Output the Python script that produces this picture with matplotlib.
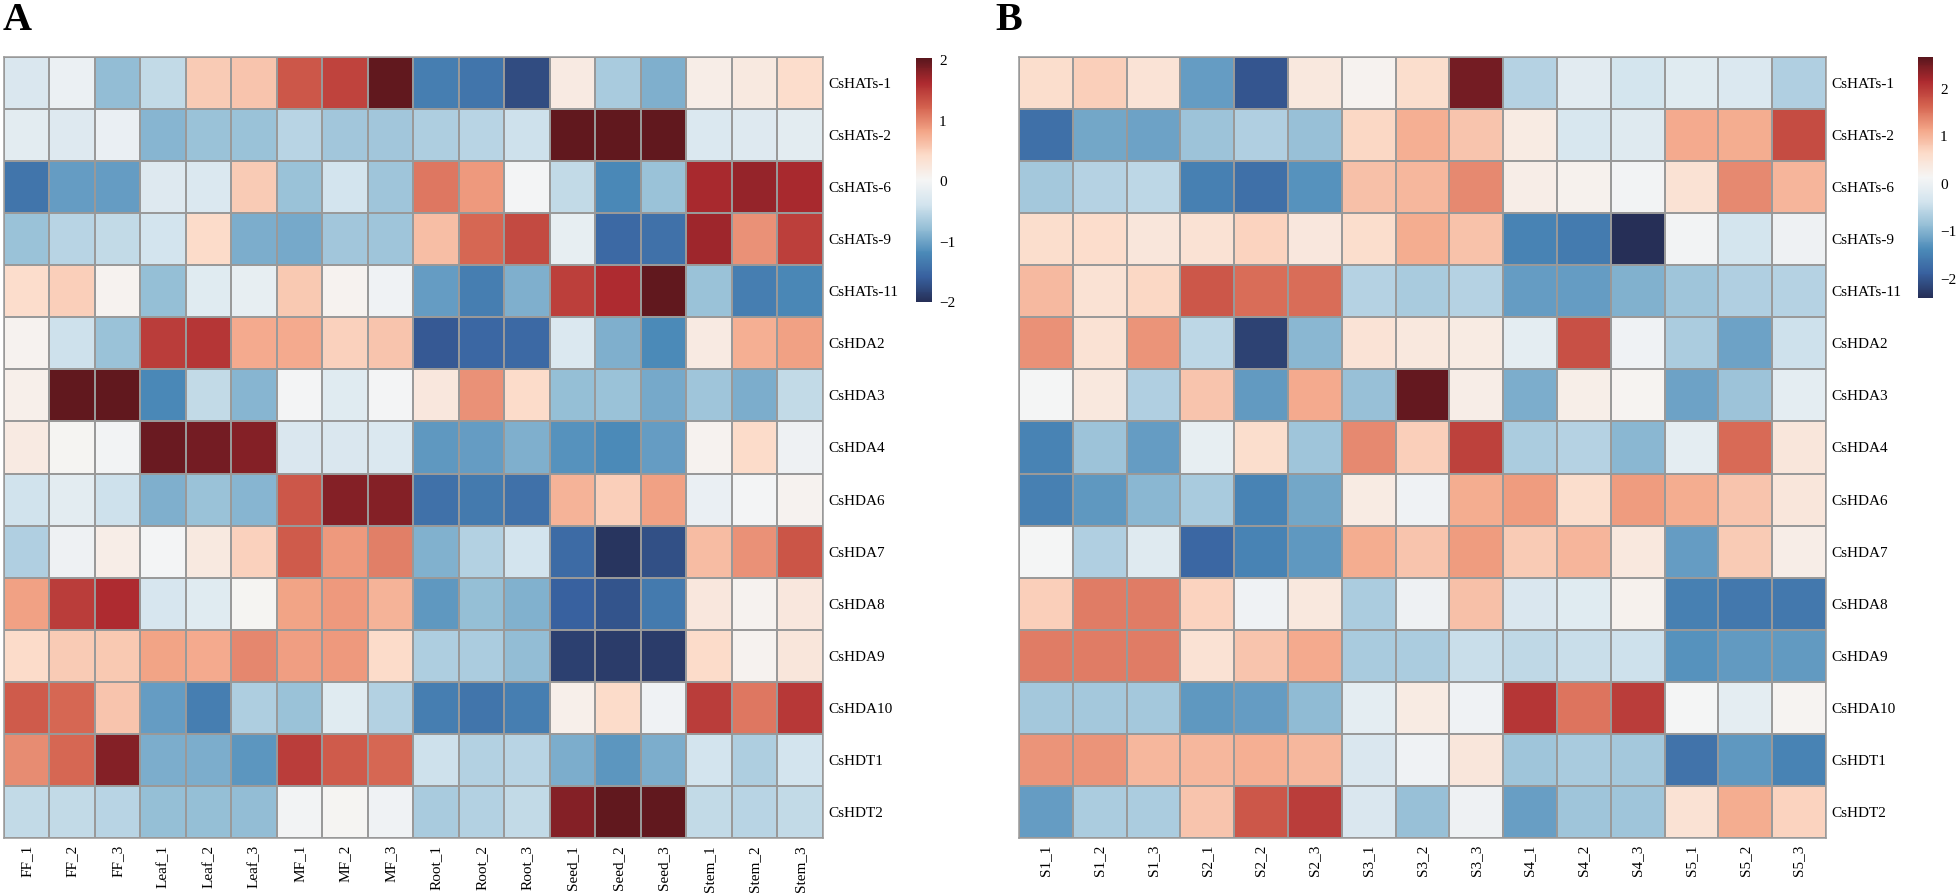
import numpy as np
import matplotlib
matplotlib.use("Agg")
import matplotlib.pyplot as plt
from matplotlib.colors import LinearSegmentedColormap

plt.rcParams["font.family"] = ["Liberation Serif", "DejaVu Serif"]

genes = ["CsHATs-1", "CsHATs-2", "CsHATs-6", "CsHATs-9", "CsHATs-11",
         "CsHDA2", "CsHDA3", "CsHDA4", "CsHDA6", "CsHDA7", "CsHDA8",
         "CsHDA9", "CsHDA10", "CsHDT1", "CsHDT2"]

tissues = ["FF_1", "FF_2", "FF_3", "Leaf_1", "Leaf_2", "Leaf_3",
           "MF_1", "MF_2", "MF_3", "Root_1", "Root_2", "Root_3",
           "Seed_1", "Seed_2", "Seed_3", "Stem_1", "Stem_2", "Stem_3"]

stages = ["S1_1", "S1_2", "S1_3", "S2_1", "S2_2", "S2_3", "S3_1", "S3_2",
          "S3_3", "S4_1", "S4_2", "S4_3", "S5_1", "S5_2", "S5_3"]

# z-scores, panel A (tissues)
vals_a = [
    [-0.3, -0.1, -0.8, -0.5, 0.55, 0.6, 1.3, 1.45, 2.0, -1.3, -1.4, -1.75, 0.2, -0.65, -0.9, 0.15, 0.22, 0.4],
    [-0.2, -0.25, -0.12, -0.85, -0.75, -0.75, -0.55, -0.7, -0.7, -0.62, -0.55, -0.42, 2.0, 2.0, 2.0, -0.28, -0.25, -0.2],
    [-1.4, -1.05, -1.05, -0.25, -0.28, 0.55, -0.75, -0.38, -0.72, 1.1, 0.9, 0.0, -0.5, -1.2, -0.75, 1.65, 1.75, 1.65],
    [-0.75, -0.55, -0.5, -0.38, 0.42, -0.92, -0.95, -0.7, -0.72, 0.65, 1.2, 1.4, -0.15, -1.5, -1.42, 1.7, 0.95, 1.48],
    [0.4, 0.52, 0.08, -0.78, -0.22, -0.15, 0.56, 0.08, -0.05, -1.05, -1.3, -0.9, 1.48, 1.62, 2.0, -0.75, -1.3, -1.22],
    [0.08, -0.42, -0.75, 1.5, 1.55, 0.78, 0.78, 0.5, 0.6, -1.65, -1.52, -1.5, -0.28, -0.9, -1.18, 0.2, 0.75, 0.85],
    [0.12, 2.0, 2.0, -1.2, -0.5, -0.85, 0.0, -0.22, 0.0, 0.25, 0.95, 0.42, -0.78, -0.75, -0.95, -0.72, -0.92, -0.5],
    [0.2, 0.04, -0.02, 1.95, 1.9, 1.82, -0.3, -0.3, -0.28, -1.08, -1.05, -0.9, -1.12, -1.18, -1.05, 0.08, 0.42, -0.06],
    [-0.4, -0.2, -0.42, -0.9, -0.75, -0.85, 1.3, 1.82, 1.82, -1.42, -1.35, -1.42, 0.72, 0.52, 0.85, -0.12, 0.0, 0.07],
    [-0.6, -0.06, 0.16, 0.0, 0.22, 0.5, 1.28, 0.9, 1.05, -0.88, -0.58, -0.38, -1.48, -1.95, -1.72, 0.66, 0.95, 1.32],
    [0.85, 1.5, 1.62, -0.33, -0.22, 0.04, 0.83, 0.9, 0.72, -1.08, -0.78, -0.88, -1.58, -1.7, -1.35, 0.25, 0.08, 0.25],
    [0.42, 0.55, 0.56, 0.83, 0.78, 1.0, 0.87, 0.9, 0.42, -0.62, -0.64, -0.8, -1.85, -1.88, -1.88, 0.42, 0.08, 0.27],
    [1.27, 1.2, 0.6, -1.05, -1.3, -0.62, -0.75, -0.22, -0.58, -1.3, -1.4, -1.3, 0.13, 0.42, -0.05, 1.5, 1.1, 1.52],
    [0.97, 1.2, 1.82, -0.92, -0.92, -1.1, 1.5, 1.28, 1.2, -0.42, -0.58, -0.55, -0.92, -1.1, -0.92, -0.38, -0.62, -0.38],
    [-0.5, -0.5, -0.55, -0.78, -0.78, -0.8, -0.02, 0.04, -0.05, -0.65, -0.58, -0.5, 1.82, 2.0, 2.0, -0.5, -0.55, -0.5],
]

# z-scores, panel B (stages)
vals_b = [
    [0.6, 0.75, 0.5, -1.2, -2.0, 0.4, 0.2, 0.6, 2.5, -0.6, -0.15, -0.35, -0.17, -0.25, -0.65],
    [-1.7, -1.1, -1.15, -0.8, -0.65, -0.85, 0.68, 1.05, 0.85, 0.35, -0.3, -0.2, 1.1, 1.08, 1.85],
    [-0.75, -0.6, -0.55, -1.5, -1.7, -1.3, 0.9, 0.98, 1.35, 0.3, 0.22, 0.08, 0.52, 1.35, 1.0],
    [0.6, 0.62, 0.45, 0.52, 0.72, 0.42, 0.6, 1.08, 0.88, -1.45, -1.55, -2.4, 0.08, -0.35, 0.02],
    [0.95, 0.52, 0.68, 1.75, 1.58, 1.58, -0.6, -0.7, -0.6, -1.2, -1.2, -1.0, -0.78, -0.65, -0.6],
    [1.3, 0.52, 1.28, -0.55, -2.2, -0.95, 0.5, 0.4, 0.35, -0.12, 1.8, 0.05, -0.68, -1.15, -0.4],
    [0.12, 0.4, -0.65, 0.85, -1.22, 1.1, -0.85, 2.6, 0.3, -1.05, 0.28, 0.18, -1.15, -0.8, -0.12],
    [-1.45, -0.8, -1.2, -0.08, 0.6, -0.78, 1.35, 0.75, 1.95, -0.68, -0.6, -0.95, -0.12, 1.6, 0.45],
    [-1.5, -1.25, -0.95, -0.7, -1.45, -1.1, 0.35, 0.05, 1.08, 1.22, 0.6, 1.22, 1.08, 0.85, 0.45],
    [0.12, -0.65, -0.2, -1.8, -1.45, -1.25, 1.08, 0.85, 1.22, 0.8, 1.0, 0.4, -1.2, 0.8, 0.3],
    [0.75, 1.45, 1.45, 0.72, 0.05, 0.4, -0.68, 0.02, 0.9, -0.28, -0.18, 0.22, -1.5, -1.6, -1.6],
    [1.45, 1.45, 1.45, 0.52, 0.85, 1.1, -0.7, -0.68, -0.45, -0.52, -0.45, -0.4, -1.3, -1.22, -1.22],
    [-0.75, -0.75, -0.75, -1.25, -1.2, -0.9, -0.12, 0.35, 0.05, 2.05, 1.52, 1.98, 0.12, -0.12, 0.18],
    [1.28, 1.28, 0.98, 0.98, 1.05, 0.98, -0.28, 0.05, 0.45, -0.78, -0.7, -0.75, -1.65, -1.25, -1.45],
    [-1.2, -0.68, -0.68, 0.85, 1.75, 1.98, -0.28, -0.85, 0.02, -1.18, -0.78, -0.78, 0.52, 1.08, 0.72],
]

# muted RdBu, as in the figure
cmap = LinearSegmentedColormap.from_list("rdbu_muted", [
    "#262f57", "#38609e", "#4b8ab8", "#94bed6", "#d3e4ee", "#f5f5f5",
    "#fcdcca", "#f3a587", "#d4624f", "#ad2a2f", "#5a161d"])

W, H = 1958, 896


def fx(px):
    return px / W


def fy(py):
    return 1 - py / H


def draw_panel(fig, data, cols, rows, box, cbox, vmin, vmax, ticks, letter, lpos):
    x0, y0, x1, y1 = box
    ax = fig.add_axes([fx(x0), fy(y1), fx(x1 - x0), (y1 - y0) / H])
    arr = np.array(data)
    mesh = ax.pcolormesh(arr, cmap=cmap, vmin=vmin, vmax=vmax,
                         edgecolors="#999999", linewidth=1.1)
    ax.set_xlim(0, arr.shape[1])
    ax.set_ylim(arr.shape[0], 0)
    for s in ax.spines.values():
        s.set_edgecolor("#999999")
        s.set_linewidth(1.1)

    ax.set_xticks(np.arange(len(cols)) + 0.5)
    ax.set_xticklabels(cols, rotation=90, fontsize=11)
    ax.set_yticks(np.arange(len(rows)) + 0.5)
    ax.set_yticklabels(rows, fontsize=11)
    ax.yaxis.tick_right()
    ax.tick_params(axis="x", length=0, pad=5)
    ax.tick_params(axis="y", length=0, pad=4)

    cx0, cy0, cx1, cy1 = cbox
    cax = fig.add_axes([fx(cx0), fy(cy1), fx(cx1 - cx0), (cy1 - cy0) / H])
    cb = fig.colorbar(mesh, cax=cax, ticks=ticks)
    cb.outline.set_visible(False)
    cax.tick_params(length=0, labelsize=11, pad=5)

    fig.text(fx(lpos[0]), fy(lpos[1]), letter, fontsize=29,
             fontweight="bold", ha="left", va="top")


def main():
    fig = plt.figure(figsize=(W / 100, H / 100), dpi=100)

    draw_panel(fig, vals_a, tissues, genes,
               (4, 57, 823, 838), (916, 58, 932, 302),
               -2.0, 2.04, [-2, -1, 0, 1, 2], "A", (3, 2))

    draw_panel(fig, vals_b, stages, genes,
               (1019, 57, 1826, 838), (1918, 57, 1933, 298),
               -2.4, 2.67, [-2, -1, 0, 1, 2], "B", (995, 2))

    fig.savefig("out.png", dpi=100)
    plt.close(fig)


if __name__ == "__main__":
    main()
